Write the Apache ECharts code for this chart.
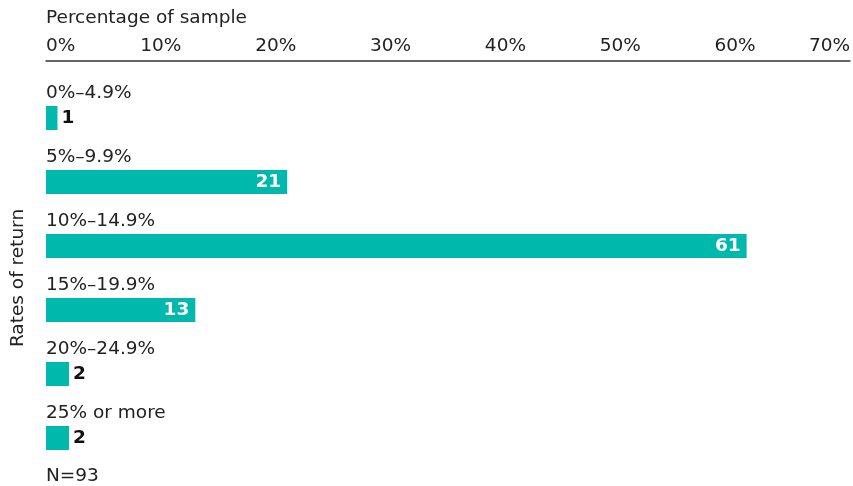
<!DOCTYPE html>
<html>
<head>
<meta charset="utf-8">
<script src="https://cdn.jsdelivr.net/npm/echarts@6/dist/echarts.min.js"></script>
<style>
html,body{margin:0;padding:0;background:#fff;}
#chart{width:853px;height:486px;}
</style>
</head>
<body>
<div id="chart"></div>
<script>
const categories = ['0%–4.9%', '5%–9.9%', '10%–14.9%', '15%–19.9%', '20%–24.9%', '25% or more'];
const values = [1, 21, 61, 13, 2, 2];
const xTicks = [0, 10, 20, 30, 40, 50, 60, 70];

const FONT = 'DejaVu Sans';
const TEAL = '#00b8ac';
const FS = 18.5;

const chart = echarts.init(document.getElementById('chart'), null, {renderer: 'canvas'});

const data = values.map(v => ({
  value: v,
  label: v >= 10
    ? {position: 'insideRight', color: '#fff', distance: 6}
    : {position: 'right', color: '#111', distance: 4}
}));

chart.setOption({
  animation: false,
  title: [
    {text: 'Percentage of sample', left: 46, top: 9, padding: 0,
     textStyle: {fontFamily: FONT, fontSize: FS, fontWeight: 'normal', color: '#222'}},
    {text: 'N=93', left: 46, top: 467, padding: 0,
     textStyle: {fontFamily: FONT, fontSize: FS, fontWeight: 'normal', color: '#222'}}
  ],
  grid: {left: 46, right: 2, top: 86, bottom: 16, containLabel: false},
  xAxis: {
    type: 'value',
    position: 'top',
    offset: 25,
    min: xTicks[0],
    max: xTicks[xTicks.length - 1],
    interval: 10,
    axisLine: {show: true, lineStyle: {color: '#333', width: 1.5}},
    axisTick: {show: false},
    splitLine: {show: false},
    axisLabel: {
      formatter: v => v + '%',
      fontFamily: FONT, fontSize: FS, color: '#222', margin: 5,
      alignMinLabel: 'left', alignMaxLabel: 'right'
    }
  },
  yAxis: {
    type: 'category',
    data: categories,
    inverse: true,
    name: 'Rates of return',
    nameLocation: 'middle',
    nameRotate: 90,
    nameGap: 18,
    nameTextStyle: {fontFamily: FONT, fontSize: FS, color: '#222'},
    axisLine: {show: false},
    axisTick: {show: false},
    axisLabel: {
      inside: true,
      margin: 0,
      verticalAlign: 'bottom',
      padding: [0, 0, 15, 0],
      fontFamily: FONT, fontSize: FS, color: '#222'
    }
  },
  series: [{
    type: 'bar',
    data: data,
    barWidth: 24,
    itemStyle: {color: TEAL},
    label: {
      show: true,
      fontFamily: FONT, fontSize: FS, fontWeight: 'bold'
    }
  }]
});
</script>
</body>
</html>
